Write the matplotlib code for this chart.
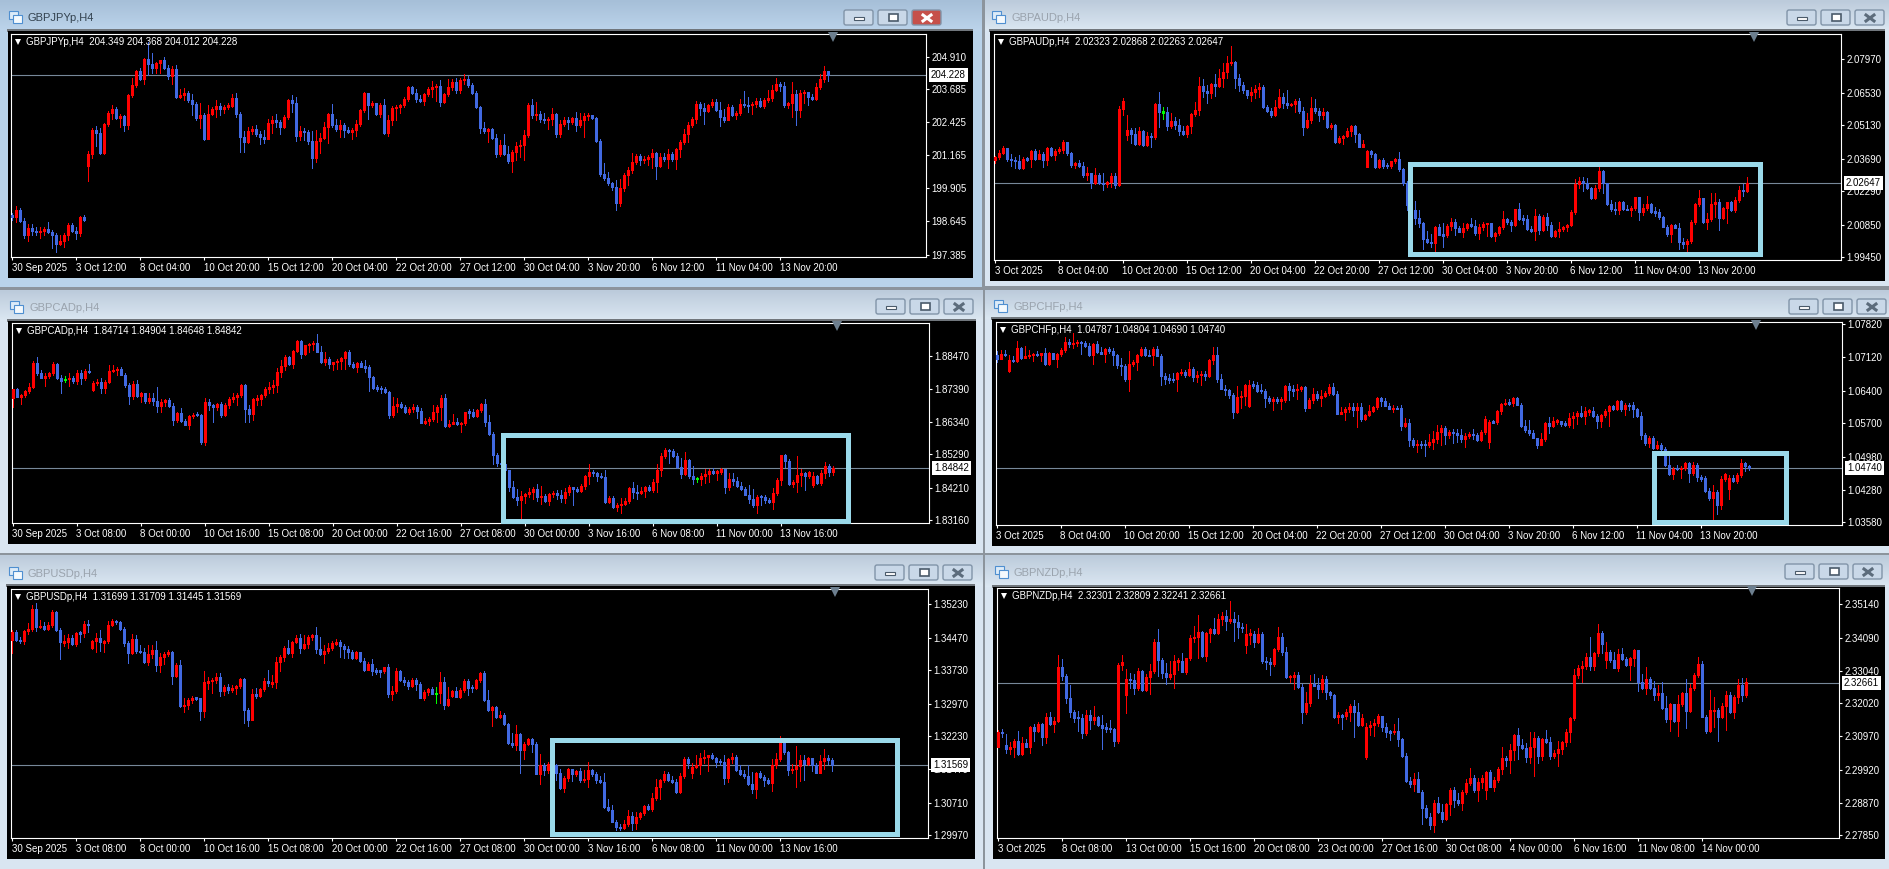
import numpy as np
import matplotlib
matplotlib.use('Agg')
import matplotlib.pyplot as plt
from matplotlib.patches import Rectangle, FancyBboxPatch

plt.rcParams['font.family'] = ['Liberation Sans', 'DejaVu Sans']

W, H = 1889, 869

# candles: (close, high, low) in points above the pair's base price.
jpy_rows = [(183,196,170),(208,224,164),(166,216,164),(113,177,100),(138,155,91),(128,155,113),(123,145,113),(128,145,103),(136,145,113),(126,164,119),
(113,132,62),(79,119,49),(89,113,75),(114,119,68),(151,158,94),(128,160,123),(122,145,98),(183,186,109),(170,189,168),(422,435,320),
(514,520,408),(504,529,453),(425,520,422),(537,542,422),(580,588,529),(593,609,555),(561,600,555),(567,575,527),(533,571,511),(648,650,516),
(684,711,639),(737,743,677),(709,749,705),(785,788,690),(766,851,724),(751,807,730),(770,775,733),(780,781,733),(752,791,746),(718,762,710),
(746,756,690),(641,762,637),(648,669,634),(654,673,628),(628,664,622),(613,651,571),(561,622,550),(570,616,520),(480,578,476),(575,609,529),
(594,600,571),(606,628,565),(594,616,571),(603,609,578),(606,616,593),(636,651,600),(575,654,562),(488,584,430),(466,508,430),(509,524,463),
(516,529,499),(499,533,491),(488,508,459),(481,514,463),(539,555,478),(550,567,501),(544,575,527),(525,552,499),(562,570,521),(628,631,557),
(618,648,584),(491,639,473),(509,529,476),(506,520,476),(473,514,460),(407,508,370),(472,514,392),(482,504,425),(525,544,478),(576,580,463),
(533,613,527),(516,555,511),(532,552,486),(514,542,486),(505,527,501),(514,522,481),(536,552,491),(590,595,529),(655,660,584),(609,656,556),
(618,625,600),(575,616,571),(608,616,565),(501,632,499),(550,571,491),(598,606,533),(600,609,552),(608,613,578),(632,641,603),(678,682,625),
(656,682,651),(632,669,622),(625,648,622),(651,654,609),(670,677,644),(677,699,641),(682,690,625),(622,705,607),(651,654,616),(676,707,644),
(697,707,667),(667,711,654),(706,711,656),(707,728,690),(687,720,679),(656,692,651),(603,664,597),(523,606,504),(511,546,504),(519,523,466),
(485,521,481),(422,499,412),(457,476,415),(422,499,418),(397,453,389),(429,438,355),(453,466,399),(455,476,412),(495,514,399),(609,618,488),
(571,632,558),(575,622,552),(555,586,546),(552,578,542),(555,565,518),(575,598,533),(497,580,486),(537,552,486),(550,562,529),(544,565,516),
(560,565,537),(533,581,510),(551,578,527),(567,580,486),(570,578,552),(558,571,555),(473,562,469),(345,478,339),(329,387,323),(310,355,303),
(297,317,285),(234,323,208),(291,326,225),(342,351,282),(361,374,304),(390,425,351),(415,422,384),(399,422,380),(402,415,387),(410,418,380),
(425,440,367),(376,431,327),(410,427,374),(404,427,397),(422,440,367),(402,431,397),(441,444,365),(468,476,410),(499,516,460),(533,546,466),
(557,565,524),(613,625,539),(597,622,571),(585,616,536),(608,613,583),(621,631,600),(590,632,588),(562,622,529),(552,593,546),(603,611,550),
(570,608,567),(578,588,557),(612,631,571),(608,663,600),(608,641,584),(613,622,575),(626,634,603),(606,634,600),(628,634,597),(634,667,622),
(665,686,626),(690,711,664),(682,697,664),(609,697,600),(616,622,597),(651,696,565),(590,667,533),(654,667,565),(659,667,616),(639,654,609),
(631,651,628),(677,692,628),(707,728,672),(739,758,698),(723,740,701)]
jpy_gaps = {19: 378}
jpy_doji = []

aud_rows = [(475,481,452),(495,507,467),(517,524,489),(469,507,461),(464,489,439),(458,478,428),(429,485,425),(469,478,426),(467,475,461),(502,507,435),
(469,510,464),(489,507,469),(464,499,435),(514,521,442),(485,521,481),(504,510,464),(508,521,495),(540,550,495),(495,543,485),(441,499,435),
(449,456,428),(439,464,432),(398,456,392),(409,432,378),(363,409,342),(398,428,360),(366,406,360),(360,406,335),(369,375,349),(395,406,346),
(358,409,342),(683,696,352),(716,729,656),(593,657,550),(575,600,535),(531,600,527),(588,607,527),(528,593,524),(567,586,524),(561,578,521),
(705,707,553),(670,755,607),(670,693,639),(610,693,593),(631,664,600),(614,647,596),(588,639,571),(575,610,571),(610,614,561),(662,664,578),
(679,715,653),(782,819,657),(762,811,733),(750,786,710),(791,793,729),(782,834,739),(816,854,779),(844,880,776),(882,911,815),(885,954,872),
(814,888,771),(786,834,762),(765,801,753),(743,765,729),(758,776,719),(769,786,729),(779,793,736),(693,786,686),(676,699,672),(657,686,647),
(690,722,653),(733,768,686),(707,750,686),(700,765,686),(705,710,696),(719,725,672),(676,728,664),(607,693,571),(636,667,600),(689,733,624),
(674,725,664),(659,686,633),(670,686,639),(604,676,600),(614,624,596),(543,619,535),(560,567,535),(567,571,533),(588,600,561),(611,614,567),
(574,613,543),(521,578,518),(533,550,518),(502,507,432),(488,507,475),(435,492,431),(464,467,429),(439,471,428),(439,452,429),(458,461,431),
(469,472,449),(424,498,418),(363,431,356),(270,373,249),(249,292,234),(213,287,188),(191,249,177),(125,198,79),(111,160,105),(105,145,91),
(177,180,74),(141,188,141),(141,191,91),(181,188,134),(197,213,163),(171,210,141),(155,180,152),(171,191,131),(188,194,163),(180,213,174),
(151,205,141),(174,188,122),(188,198,163),(191,194,137),(137,184,131),(148,155,117),(175,180,141),(208,246,168),(198,213,188),(184,205,160),
(251,251,180),(210,280,205),(208,227,188),(165,227,163),(158,180,155),(223,251,120),(163,231,145),(217,227,157),(184,234,163),(137,198,131),
(158,163,134),(167,198,134),(174,180,160),(184,188,160),(241,249,180),(360,383,231),(372,389,342),(363,392,332),(342,385,337),(300,349,297),
(343,355,294),(416,438,329),(363,421,323),(274,366,272),(253,292,246),(249,284,231),(284,287,231),(253,289,249),(249,270,249),(259,266,223),
(304,306,249),(241,306,206),(257,274,227),(274,309,249),(241,280,234),(239,260,223),(217,251,211),(177,223,174),(145,183,137),(184,188,112),
(173,188,170),(112,191,79),(102,127,84),(114,125,74),(195,206,108),(276,280,188),(300,335,266),(195,297,191),(208,234,165),(274,320,200),
(283,320,220),(213,294,163),(257,260,208),(283,284,191),(249,289,246),(292,303,240),(335,352,283),(332,360,309),(365,389,326)]
aud_gaps = {33: 571, 93: 435}
aud_doji = [42]

cad_rows = [(438,441,380),(415,442,413),(421,423,391),(434,436,415),(445,458,426),(524,531,442),(492,542,485),(475,501,474),(481,492,449),(490,495,475),
(520,528,485),(475,524,473),(464,484,428),(471,481,461),(475,490,449),(466,481,460),(490,501,456),(475,501,456),(499,505,469),(494,520,492),
(458,466,432),(462,471,452),(443,474,428),(462,469,428),(498,517,458),(500,516,494),(505,512,485),(486,509,484),(451,490,445),(418,458,391),
(456,466,406),(417,469,415),(426,431,399),(402,426,395),(410,426,393),(402,426,388),(385,445,366),(399,406,366),(404,406,385),(386,409,383),
(340,393,323),(361,366,334),(337,377,334),(324,342,322),(352,356,309),(357,363,345),(357,366,352),(268,359,262),(397,412,259),(389,406,372),
(382,391,334),(391,395,372),(357,399,350),(387,393,352),(408,413,378),(413,426,399),(421,426,388),(451,455,415),(376,455,334),(359,388,334),
(406,409,340),(408,420,388),(421,423,388),(438,445,415),(445,463,428),(452,469,426),(495,506,431),(514,533,479),(544,549,501),(520,546,517),
(563,565,506),(595,598,559),(552,598,538),(581,581,550),(585,589,560),(589,595,567),(560,617,558),(528,578,522),(536,560,517),(520,544,507),
(527,528,501),(529,535,505),(541,544,503),(560,563,503),(520,565,514),(509,528,506),(524,527,494),(512,529,509),(509,533,495),(477,517,434),
(443,481,441),(443,452,434),(438,449,428),(430,445,426),(355,434,345),(385,413,348),(391,409,366),(383,399,377),(364,388,361),(374,380,359),
(380,391,365),(367,388,345),(331,377,329),(337,345,327),(344,348,323),(365,388,337),(380,388,334),(409,420,340),(320,423,318),(326,339,318),
(334,359,331),(327,345,323),(330,333,301),(365,366,322),(365,374,345),(352,374,350),(372,374,348),(391,393,366),(333,408,320),(294,356,291),
(227,301,198),(200,232,192),(198,205,191),(178,205,173),(122,178,112),(90,144,88),(82,116,65),(94,111,17),(101,105,71),(107,119,90),
(117,122,84),(92,133,79),(94,127,69),(79,101,76),(101,103,65),(105,111,90),(98,114,84),(87,114,76),(106,119,71),(125,129,98),
(118,122,65),(112,122,107),(128,133,107),(159,162,116),(173,198,133),(169,178,159),(159,173,144),(156,168,151),(75,178,73),(87,95,73),
(58,95,56),(65,71,45),(69,87,41),(77,87,65),(121,125,71),(107,140,87),(105,130,84),(112,122,101),(125,127,92),(114,129,112),
(140,148,107),(178,198,108),(224,232,159),(243,249,216),(240,247,200),(224,245,221),(187,232,184),(165,216,151),(210,237,162),(159,215,151),
(148,191,133),(150,157,140),(159,168,130),(165,180,135),(176,180,141),(170,185,165),(173,178,146),(180,185,165),(125,183,105),(148,168,114),
(144,168,130),(128,157,125),(116,141,114),(99,125,97),(84,129,71),(65,116,58),(92,98,41),(92,98,65),(82,98,71),(74,87,71),
(105,119,54),(146,151,98),(226,228,130),(208,230,189),(132,213,130),(140,146,122),(161,223,108),(168,180,127),(159,173,114),(172,174,151),
(159,173,125),(135,162,133),(170,178,129),(191,204,151),(172,198,159),(184,191,162)]
cad_gaps = {20: 436, 200: 130}
cad_doji = [13, 171]

chf_rows = [(407,424,402),(419,427,408),(415,426,413),(406,416,380),(403,413,401),(431,445,400),(409,434,407),(414,436,409),(416,427,409),(419,421,404),
(415,424,413),(420,421,404),(397,431,395),(421,423,394),(408,421,407),(419,421,391),(427,430,414),(443,454,423),(440,450,434),(441,463,431),
(444,449,436),(442,445,419),(436,445,434),(415,441,414),(440,441,397),(422,445,420),(419,433,418),(429,431,400),(424,433,421),(415,431,395),
(395,418,388),(393,409,374),(365,396,361),(397,425,338),(401,406,393),(416,419,384),(429,434,414),(416,434,414),(415,427,414),(429,433,395),
(414,436,413),(370,418,351),(365,377,354),(364,376,356),(364,377,359),(377,379,338),(379,386,374),(374,384,369),(386,401,371),(368,390,361),
(374,381,359),(375,382,352),(370,381,363),(406,408,368),(416,434,397),(364,433,359),(344,375,343),(341,352,331),(331,344,324),(294,334,281),
(326,349,291),(329,338,302),(352,354,309),(352,363,304),(351,361,345),(340,359,336),(339,354,334),(325,344,304),(317,329,313),(321,326,299),
(319,326,313),(320,326,300),(350,352,316),(341,356,320),(341,352,329),(344,354,321),(348,350,339),(303,350,297),(320,324,302),(333,345,313),
(323,338,320),(329,341,306),(334,338,326),(348,354,331),(332,356,330),(290,338,289),(294,304,289),(300,304,277),(304,313,295),(299,314,286),
(304,313,262),(279,313,274),(287,290,277),(297,309,286),(304,307,294),(325,327,301),(318,327,306),(307,324,306),(301,314,300),(302,309,293),
(302,307,300),(264,309,256),(271,282,261),(234,279,222),(224,238,219),(225,234,209),(225,231,217),(223,234,200),(230,246,219),(237,253,214),
(251,267,227),(260,267,224),(244,263,226),(251,256,239),(249,257,227),(245,257,229),(237,257,229),(243,249,220),(248,252,239),(244,257,236),
(234,250,231),(251,256,233),(279,286,247),(273,276,218),(272,277,270),(296,299,269),(311,314,290),(313,321,309),(313,321,309),(325,327,307),
(310,326,309),(263,314,262),(256,277,252),(249,277,245),(239,256,238),(224,234,216),(237,250,223),(270,272,233),(263,283,250),(274,284,261),
(275,279,269),(269,274,264),(267,274,264),(281,292,262),(286,293,259),(292,296,269),(286,306,283),(296,304,269),(297,300,287),(286,304,283),
(274,289,260),(288,290,261),(297,300,283),(306,309,264),(301,309,299),(318,320,299),(300,320,297),(308,314,288),(308,313,299),(300,316,283),
(286,303,284),(245,294,236),(227,249,224),(238,242,220),(218,243,214),(223,231,214),(214,227,213),(181,220,179),(162,199,160),(173,177,151),
(172,181,169),(174,179,152),(185,187,170),(164,188,144),(180,187,160),(154,184,147),(152,159,147),(124,157,122),(109,132,106),(123,138,64),
(95,127,76),(150,156,86),(162,164,147),(153,159,108),(147,159,145),(159,163,143),(185,194,154),(179,187,167),(174,181,169)]
chf_gaps = {3: 381, 63: 306, 123: 229, 183: 129}
chf_doji = []

usd_rows = [(559,565,513),(542,565,539),(540,549,535),(562,564,532),(567,580,555),(612,621,562),(571,627,562),(574,587,568),(567,583,565),(576,582,564),
(606,610,571),(565,608,562),(536,568,498),(538,553,529),(546,555,524),(532,553,530),(558,559,527),(558,562,536),(578,586,549),(576,587,559),
(539,541,521),(546,557,515),(536,564,517),(539,542,515),(576,585,534),(585,590,573),(582,587,577),(567,585,565),(535,571,527),(512,539,489),
(544,555,509),(517,553,511),(515,530,511),(491,523,489),(509,530,485),(519,530,500),(485,539,471),(503,511,468),(509,514,486),(514,519,505),
(460,517,441),(485,489,457),(391,496,389),(394,409,378),(405,409,385),(410,415,398),(409,413,405),(379,410,360),(445,471,366),(448,458,430),
(451,456,420),(458,466,443),(426,466,414),(435,439,416),(428,441,420),(432,439,423),(437,439,419),(453,455,433),(382,455,352),(360,386,347),
(419,429,359),(414,432,410),(430,433,412),(448,456,426),(443,473,438),(445,462,435),(491,503,433),(502,508,470),(523,527,495),(511,542,509),
(536,540,504),(547,553,535),(523,555,511),(532,553,521),(549,553,523),(553,555,542),(521,571,511),(509,549,508),(516,530,489),(523,534,511),
(534,539,519),(536,544,530),(527,541,503),(521,532,500),(515,529,500),(500,519,498),(514,517,498),(494,515,492),(473,500,471),(486,491,473),
(471,498,461),(471,477,464),(471,473,457),(480,481,467),(419,487,412),(426,436,405),(471,477,420),(451,473,449),(447,458,439),(438,450,429),
(450,456,435),(442,456,428),(410,447,409),(424,428,406),(430,433,416),(419,435,418),(420,435,398),(445,468,398),(394,458,385),(407,435,392),
(426,428,413),(413,435,412),(428,433,410),(449,454,424),(433,454,416),(433,439,424),(451,453,430),(466,468,447),(406,471,403),(382,428,379),
(389,392,347),(367,391,365),(372,380,363),(350,375,348),(308,353,306),(303,331,297),(327,348,291),(291,331,240),(306,310,271),(316,319,303),
(305,319,286),(237,309,236),(257,282,214),(246,261,234),(259,263,238),(256,261,242),(240,259,223),(204,248,202),(227,231,196),(248,251,221),
(236,242,221),(243,246,233),(222,250,218),(226,246,219),(245,263,208),(237,248,233),(222,242,216),(219,231,216),(162,240,160),(155,180,152),
(128,166,127),(117,132,109),(113,122,108),(122,132,111),(140,155,119),(124,149,109),(139,151,111),(147,151,134),(164,166,143),(158,168,154),
(181,193,152),(208,225,178),(223,225,180),(237,243,219),(222,242,221),(219,231,216),(195,225,193),(231,238,193),(271,275,228),(261,276,250),
(253,261,228),(257,280,250),(272,284,236),(276,291,261),(279,281,243),(272,284,271),(265,276,253),(265,271,257),(227,280,213),(271,272,218),
(275,284,261),(246,280,243),(236,257,234),(231,246,228),(213,256,212),(202,242,193),(239,242,181),(230,243,227),(222,234,210),(216,228,213),
(257,271,198),(271,284,251),(309,322,266),(286,318,283),(246,289,234),(247,259,238),(254,300,208),(269,281,221),(259,280,223),(272,276,256),
(257,261,243),(240,261,239),(266,281,238),(272,294,248),(269,280,259),(256,272,243)]
usd_gaps = {20: 523, 110: 415, 170: 240}
usd_doji = [106]

nzd_rows = [(412,417,363),(407,421,396),(357,405,344),(364,378,341),(383,389,333),(341,414,338),(377,395,338),(365,389,363),(427,430,346),(414,435,383),
(436,444,412),(396,438,370),(459,470,375),(436,475,433),(446,457,412),(616,654,442),(589,641,574),(519,593,502),(473,559,459),(456,480,444),
(456,478,415),(407,467,393),(465,481,402),(449,481,421),(457,493,435),(433,463,431),(425,465,357),(423,438,410),(421,449,412),(383,425,368),
(622,628,377),(631,654,607),(578,610,471),(574,596,549),(549,593,530),(604,612,545),(544,607,540),(585,593,540),(604,625,532),(696,705,596),
(638,736,589),(598,644,583),(585,628,564),(595,635,578),(635,654,549),(636,644,607),(601,659,599),(644,646,595),(707,717,639),(710,747,696),
(726,780,644),(651,730,649),(724,726,635),(736,740,694),(724,772,719),(768,782,721),(777,791,749),(762,796,733),(767,824,755),(757,791,698),
(742,780,707),(740,754,726),(720,751,660),(721,736,690),(694,730,679),(720,740,692),(635,726,628),(633,649,610),(625,644,591),(672,677,620),
(711,742,667),(662,722,654),(585,680,583),(586,591,568),(590,599,547),(553,599,549),(473,561,438),(503,536,467),(561,591,494),(558,593,555),
(547,583,519),(578,591,538),(536,589,515),(528,540,517),(458,530,454),(464,473,441),(460,469,421),(475,484,452),(494,498,446),(475,512,396),
(433,502,431),(454,467,431),(427,438,326),(432,446,402),(439,452,399),(460,467,429),(428,463,414),(412,438,395),(411,417,386),(413,436,404),
(389,454,368),(335,393,332),(256,344,254),(246,270,239),(263,281,225),(223,284,221),(170,228,122),(143,181,139),(118,154,105),(187,195,94),
(160,207,154),(135,185,126),(183,186,133),(229,233,149),(196,238,175),(186,217,181),(223,229,165),(250,263,216),(265,296,244),(227,275,223),
(252,267,193),(267,275,235),(286,288,200),(239,291,236),(260,270,225),(294,302,252),(328,364,280),(322,334,305),(353,372,282),(402,405,323),
(370,425,326),(362,389,357),(332,375,317),(364,410,313),(393,410,273),(334,397,313),(389,393,323),(381,417,375),(335,395,326),(345,354,330),
(357,383,304),(378,383,343),(412,420,368),(456,458,381),(591,610,449),(612,623,583),(619,635,568),(649,660,610),(620,711,607),(660,663,608),
(724,751,650),(688,730,659),(663,694,614),(638,670,633),(614,662,612),(658,673,604),(641,675,638),(622,649,620),(646,649,575),(670,672,619),
(568,671,540),(549,593,546),(578,617,531),(551,585,547),(528,572,511),(534,559,512),(488,568,484),(452,526,444),(499,503,414),(447,499,444),
(499,528,398),(534,538,494),(478,578,423),(549,562,475),(591,596,545),(626,648,585),(459,635,457),(414,465,407),(479,544,412),(480,523,427),
(458,488,383),(493,502,454),(528,540,417),(473,536,471),(521,528,454),(559,578,504),(528,583,509),(568,582,521)]
nzd_gaps = {2: 370, 32: 528, 62: 686, 92: 333, 122: 227, 152: 637}
nzd_doji = []

# price axis labels
jpy_ticks = ['204.910', '203.685', '202.425', '201.165', '199.905', '198.645', '197.385']
aud_ticks = ['2.07970', '2.06530', '2.05130', '2.03690', '2.02290', '2.00850', '1.99450']
cad_ticks = ['1.88470', '1.87390', '1.86340', '1.85290', '1.84210', '1.83160']
chf_ticks = ['1.07820', '1.07120', '1.06400', '1.05700', '1.04980', '1.04280', '1.03580']
usd_ticks = ['1.35230', '1.34470', '1.33730', '1.32970', '1.32230', '1.31470', '1.30710', '1.29970']
nzd_ticks = ['2.35140', '2.34090', '2.33040', '2.32020', '2.30970', '2.29920', '2.28870', '2.27850']

# time axis labels, one every 16 candles
dates_a = ['30 Sep 2025', '3 Oct 12:00', '8 Oct 04:00', '10 Oct 20:00', '15 Oct 12:00', '20 Oct 04:00', '22 Oct 20:00',
           '27 Oct 12:00', '30 Oct 04:00', '3 Nov 20:00', '6 Nov 12:00', '11 Nov 04:00', '13 Nov 20:00']
dates_b = ['30 Sep 2025', '3 Oct 08:00', '8 Oct 00:00', '10 Oct 16:00', '15 Oct 08:00', '20 Oct 00:00', '22 Oct 16:00',
           '27 Oct 08:00', '30 Oct 00:00', '3 Nov 16:00', '6 Nov 08:00', '11 Nov 00:00', '13 Nov 16:00']
dates_c = ['3 Oct 2025', '8 Oct 04:00', '10 Oct 20:00', '15 Oct 12:00', '20 Oct 04:00', '22 Oct 20:00',
           '27 Oct 12:00', '30 Oct 04:00', '3 Nov 20:00', '6 Nov 12:00', '11 Nov 04:00', '13 Nov 20:00']
dates_d = ['3 Oct 2025', '8 Oct 08:00', '13 Oct 00:00', '15 Oct 16:00', '20 Oct 08:00', '23 Oct 00:00',
           '27 Oct 16:00', '30 Oct 08:00', '4 Nov 00:00', '6 Nov 16:00', '11 Nov 08:00', '14 Nov 00:00']

panels = [
    dict(name='GBPJPYp,H4', quote=['204.349', '204.368', '204.012', '204.228'], rows=jpy_rows, gaps=jpy_gaps, doji=jpy_doji,
         base=197.0, unit=0.01, first=189, yticks=jpy_ticks, dates=dates_a, ylim=(197.29, 205.80), active=True,
         win=(0, 982, 0, 287), black=(8, 973, 31, 278), plot=(11, 926, 34, 257), x0=11.5, title=(28, 18), btn=(843, 9), mark=833, box=None),
    dict(name='GBPAUDp,H4', quote=['2.02323', '2.02868', '2.02263', '2.02647'], rows=aud_rows, gaps=aud_gaps, doji=aud_doji,
         base=1.99, unit=0.0001, first=464, yticks=aud_ticks, dates=dates_c, ylim=(1.99334, 2.09053), active=False,
         win=(985, 1889, 0, 286), black=(990, 1885, 31, 281), plot=(994, 1841, 34, 260), x0=994.5, title=(1011, 18), btn=(1786, 9), mark=1754,
         box=(1409.5, 163.5, 1759.5, 253.5)),
    dict(name='GBPCADp,H4', quote=['1.84714', '1.84904', '1.84648', '1.84842'], rows=cad_rows, gaps=cad_gaps, doji=cad_doji,
         base=1.83, unit=0.0001, first=409, yticks=cad_ticks, dates=dates_b, ylim=(1.83073, 1.89525), active=False,
         win=(0, 983, 290, 553), black=(8, 976, 321, 544), plot=(12, 929, 323, 523), x0=12.5, title=(29, 308), btn=(875, 298), mark=837,
         box=(502.5, 434.5, 847.5, 521)),
    dict(name='GBPCHFp,H4', quote=['1.04787', '1.04804', '1.04690', '1.04740'], rows=chf_rows, gaps=chf_gaps, doji=chf_doji,
         base=1.03, unit=0.0001, first=416, yticks=chf_ticks, dates=dates_c, ylim=(1.03522, 1.07866), active=False,
         win=(985, 1889, 290, 553), black=(992, 1889, 319, 546), plot=(996, 1842, 322, 525), x0=996.5, title=(1013, 307), btn=(1788, 298), mark=1756,
         box=(1653.5, 452.5, 1785.5, 521.5)),
    dict(name='GBPUSDp,H4', quote=['1.31699', '1.31709', '1.31445', '1.31569'], rows=usd_rows, gaps=usd_gaps, doji=usd_doji,
         base=1.29, unit=0.0001, first=541, yticks=usd_ticks, dates=dates_b, ylim=(1.29909, 1.35578), active=False,
         win=(0, 983, 555, 869), black=(7, 975, 586, 859), plot=(11, 928, 589, 838), x0=11.5, title=(28, 574), btn=(874, 564), mark=835,
         box=(551.5, 739.5, 896.5, 833.5)),
    dict(name='GBPNZDp,H4', quote=['2.32301', '2.32809', '2.32241', '2.32661'], rows=nzd_rows, gaps=nzd_gaps, doji=nzd_doji,
         base=2.27, unit=0.0001, first=365, yticks=nzd_ticks, dates=dates_d, ylim=(2.27765, 2.35655), active=False,
         win=(985, 1889, 555, 869), black=(993, 1885, 587, 859), plot=(997, 1839, 588, 838), x0=997.5, title=(1014, 573), btn=(1784, 563), mark=1752,
         box=None),
]

UP, DOWN, DOJI = '#ff0000', '#4169e1', '#00ff00'
LAST_LINE = '#778899'
BOX = '#9ad9ea'
FONT = 7.0

fig = plt.figure(figsize=(W / 100, H / 100), dpi=100, facecolor='#8c949c')

# background layer in screen pixels: the terminal windows
bg = fig.add_axes([0, 0, 1, 1], zorder=0)
bg.axis('off')


def draw_window(p):
    x0, x1, y0, y1 = p['win']
    bx0, bx1, by0, by1 = p['black']
    if p['active']:
        body, top, bottom, txt = '#b9d3ea', '#a6bfd8', '#bcd4eb', '#33424f'
    else:
        body, top, bottom, txt = '#d9e5f1', '#bccbdb', '#dbe7f2', '#9aa3ad'
    bg.add_patch(Rectangle((x0, y0), x1 - x0, y1 - y0, fc=body, ec='none', zorder=1))
    grad = np.linspace(0, 1, 32).reshape(-1, 1)
    cmap = matplotlib.colors.LinearSegmentedColormap.from_list('t', [top, bottom])
    bg.imshow(grad, extent=(x0, x1, by0, y0), aspect='auto', cmap=cmap, zorder=2)
    bg.add_patch(Rectangle((bx0 - 1, by0 - 2), bx1 - bx0 + 1, 3, fc='#70767c', ec='none', zorder=3))
    bg.add_patch(Rectangle((bx0, by0), bx1 - bx0, by1 - by0, fc='black', ec='none', zorder=3))
    tx, ty = p['title']
    bg.text(tx, ty, p['name'], color=txt, fontsize=8, va='center', ha='left', zorder=4)
    # small chart icon
    bg.add_patch(Rectangle((tx - 19, ty - 7), 9, 8, fc='#dcebf8', ec='#4f8fd0', lw=0.8, zorder=4))
    bg.add_patch(Rectangle((tx - 15, ty - 3), 9, 8, fc='#f4f9fd', ec='#4f8fd0', lw=0.8, zorder=4))
    # buttons
    bx, by = p['btn']
    for k in range(3):
        left = bx + k * 34
        red = p['active'] and k == 2
        bg.add_patch(FancyBboxPatch((left + 1, by + 1), 29, 15, boxstyle='round,pad=0,rounding_size=2',
                                    fc='#c6504a' if red else '#c9d8e8', ec='#8194a8', lw=1, zorder=4))
        cx, cy = left + 16, by + 9
        if k == 0:
            bg.add_patch(Rectangle((cx - 5, cy - 1), 10, 3, fc='white', ec='#4a5a6a', lw=0.8, zorder=5))
        elif k == 1:
            bg.add_patch(Rectangle((cx - 4, cy - 4), 9, 7, fc='white', ec='#4a5a6a', lw=1.2, zorder=5))
        else:
            col = 'white' if red else '#5c6c7c'
            bg.plot([cx - 4, cx + 4], [cy - 3, cy + 3], color=col, lw=2.2, zorder=5)
            bg.plot([cx - 4, cx + 4], [cy + 3, cy - 3], color=col, lw=2.2, zorder=5)


def draw_panel(p):
    left, right, top, bottom = p['plot']
    ax = fig.add_axes([left / W, 1 - bottom / H, (right - left) / W, (bottom - top) / H], zorder=2)
    ax.set_facecolor('black')
    closes, highs, lows = np.array(p['rows'], dtype=float).T
    opens = np.r_[p['first'], closes[:-1]]
    for i, v in p['gaps'].items():
        opens[i] = v
    for i in p['doji']:
        opens[i] = closes[i]
    price = lambda v: p['base'] + v * p['unit']
    o, c, h, l = price(opens), price(closes), price(highs), price(lows)
    # wicks reach past the body when a rough reading left them short
    h = np.maximum(h, np.maximum(o, c))
    l = np.minimum(l, np.minimum(o, c))
    x = np.arange(len(c))
    colors = np.where(c > o, UP, DOWN)
    colors[p['doji']] = DOJI
    last = float(p['quote'][3])
    ax.axhline(last, color=LAST_LINE, lw=0.8, zorder=1)
    ax.vlines(x, l, h, colors=colors, lw=0.72, zorder=2, antialiased=False)
    # bodies as 3 px thick lines, at least a pixel or so tall
    px = (p['ylim'][1] - p['ylim'][0]) / (bottom - top)
    mid = (o + c) / 2
    half = np.maximum(np.abs(c - o) / 2, 0.7 * px)
    ax.vlines(x, mid - half, mid + half, colors=colors, lw=2.16, zorder=3, antialiased=False, capstyle='butt')
    ax.set_xlim((left - p['x0']) / 4, (right - p['x0']) / 4)
    ax.set_ylim(*p['ylim'])
    for s in ax.spines.values():
        s.set_color('white')
        s.set_linewidth(0.8)
    ax.yaxis.tick_right()
    ax.set_yticks([float(t) for t in p['yticks']])
    ax.set_yticklabels(p['yticks'])
    ax.set_xticks(np.arange(len(p['dates'])) * 16)
    ax.set_xticklabels(p['dates'], ha='left')
    ax.tick_params(colors='white', labelsize=FONT, length=2.5, width=0.8, pad=1.5)
    ax.tick_params(axis='x', pad=2)
    ax.annotate(p['quote'][3], xy=(1, last), xycoords=ax.get_yaxis_transform(), xytext=(5, 0),
                textcoords='offset pixels', va='center', ha='left', color='black', fontsize=FONT, zorder=10,
                annotation_clip=False, bbox=dict(fc='white', ec='none', pad=1.6))
    head = p['name'] + '  ' + ' '.join(p['quote'])
    ax.text(15 / (right - left), 1 - 8 / (bottom - top), head, transform=ax.transAxes, color='white',
            fontsize=FONT, va='center', ha='left', zorder=10)


for p in panels:
    draw_window(p)
bg.set_xlim(0, W)
bg.set_ylim(H, 0)

for p in panels:
    draw_panel(p)

# top layer in screen pixels: hand drawn boxes and small chart markers
top = fig.add_axes([0, 0, 1, 1], zorder=5)
top.patch.set_visible(False)
top.axis('off')
top.set_xlim(0, W)
top.set_ylim(H, 0)
for p in panels:
    left, right, ytop, bottom = p['plot']
    top.plot(left + 6.5, ytop + 8, marker='v', ms=4.5, color='white', mew=0)
    top.plot(p['mark'], ytop + 3, marker='v', ms=7, color='#6d7f8f', mew=0)
    if p['box']:
        x0, y0, x1, y1 = p['box']
        top.add_patch(Rectangle((x0, y0), x1 - x0, y1 - y0, fill=False, ec=BOX, lw=3.6, joinstyle='miter'))

fig.savefig('out.png', dpi=100, facecolor=fig.get_facecolor())
